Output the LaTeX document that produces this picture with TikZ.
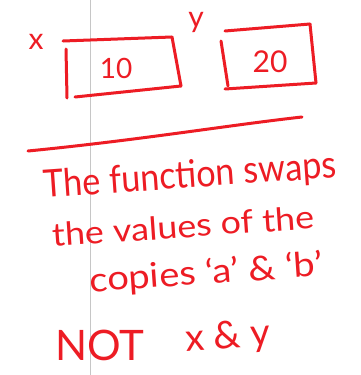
\documentclass[tikz,border=0pt]{standalone}
\usepackage{fontspec}
\setmainfont{Lato}
\definecolor{ink}{RGB}{237,28,36}
\begin{document}
\begin{tikzpicture}[x=1pt,y=-1pt,
  pen/.style={draw=ink,line width=3pt,line cap=round,line join=round},
  hand/.style={text=ink,inner sep=0pt,font=\fontsize{#1}{#1}\selectfont},
  hand/.default=28]
\useasboundingbox[fill=white] (0,0) rectangle (360,375);
\draw[gray!45,line width=1pt] (90,0) -- (90,375);
% box x
\draw[pen] (63,41) -- (172,37);
\draw[pen] (172,37) -- (181,86);
\draw[pen] (181,86) -- (75,97);
\draw[pen] (66,49) -- (67,98);
\node[hand=28] (ten) at (116,68) {10};
\node[hand=30] (xl) at (36,42) {x};
% box y
\draw[pen] (225,31) -- (310,24);
\draw[pen] (310,24) -- (316,83);
\draw[pen] (316,83) -- (225,89);
\draw[pen] (221,41) -- (228,86);
\node[hand=30] (twenty) at (270,62) {20};
\node[hand=30] (yl) at (196,22) {y};
% underline
\draw[pen] (28,151) .. controls (140,140) and (230,125) .. (302,117);
% text
\node[hand=38,rotate=4,xscale=0.9] (l1) at (190,177) {The function swaps};
\node[hand=32,rotate=4,xscale=1.12] (l2) at (183,226) {the values of the};
\node[hand=34,rotate=4,xscale=1.12] (l3) at (206,274) {copies `a' \& `b'};
\node[hand=42] (l4) at (100,345) {NOT};
\node[hand=38,rotate=4] (l5) at (228,338) {x \& y};
\end{tikzpicture}
\end{document}
